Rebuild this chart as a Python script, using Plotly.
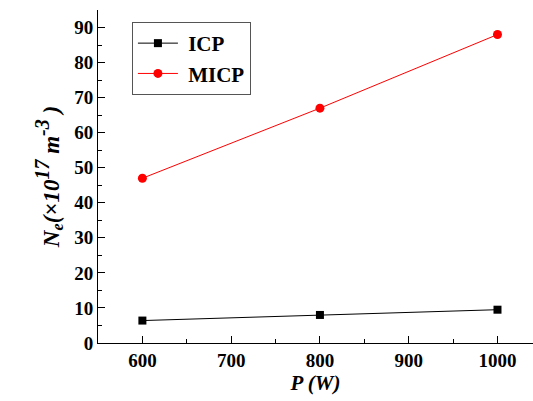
import plotly.graph_objects as go

power = [600, 800, 1000]
icp = [6.4, 8.0, 9.5]
micp = [47.0, 67.0, 88.0]

x_ticks = [600, 700, 800, 900, 1000]
y_ticks = [0, 10, 20, 30, 40, 50, 60, 70, 80, 90]

font_family = "Liberation Serif"

fig = go.Figure()
fig.add_trace(go.Scatter(x=power, y=icp, mode="lines+markers", name="<b> ICP</b>",
                         line=dict(color="black", width=1),
                         marker=dict(symbol="square", size=8, color="black")))
fig.add_trace(go.Scatter(x=power, y=micp, mode="lines+markers", name="<b> MICP</b>",
                         line=dict(color="red", width=1),
                         marker=dict(symbol="circle", size=9, color="red")))

ytitle = ("<b><i>N<sub>e</sub>(×10<sup><span style='font-size:20px'>17</span></sup>"
          " m<sup><span style='font-size:20px'>-3</span></sup> )</i></b>")

fig.update_layout(
    width=533, height=401,
    margin=dict(l=98, r=0, t=10, b=58),
    paper_bgcolor="white", plot_bgcolor="white",
    font=dict(family=font_family, size=19, color="black"),
    showlegend=True,
    legend=dict(x=0.078, y=0.964, xanchor="left", yanchor="top",
                bgcolor="white", bordercolor="#555", borderwidth=1,
                font=dict(family=font_family, size=21, color="black"),
                itemwidth=40, tracegroupgap=0),
    xaxis=dict(range=[550, 1040], tickvals=x_ticks,
               ticktext=[f"<b>{v}</b>" for v in x_ticks],
               showgrid=False, zeroline=False, showline=True, linecolor="black", linewidth=1,
               ticks="inside", ticklen=7, tickcolor="black",
               minor=dict(ticks="inside", ticklen=4, dtick=50, tickcolor="black"),
               title=dict(text="<b><i>P (W)</i></b>", standoff=4,
                          font=dict(family=font_family, size=21))),
    yaxis=dict(range=[0, 95], tickvals=y_ticks,
               ticktext=[f"<b>{v}</b>" for v in y_ticks],
               showgrid=False, zeroline=False, showline=True, linecolor="black", linewidth=1,
               ticks="inside", ticklen=7, tickcolor="black",
               minor=dict(ticks="inside", ticklen=4, dtick=5, tickcolor="black"),
               title=dict(text=ytitle, standoff=8,
                          font=dict(family=font_family, size=23))),
)

fig.write_html("out.html")
